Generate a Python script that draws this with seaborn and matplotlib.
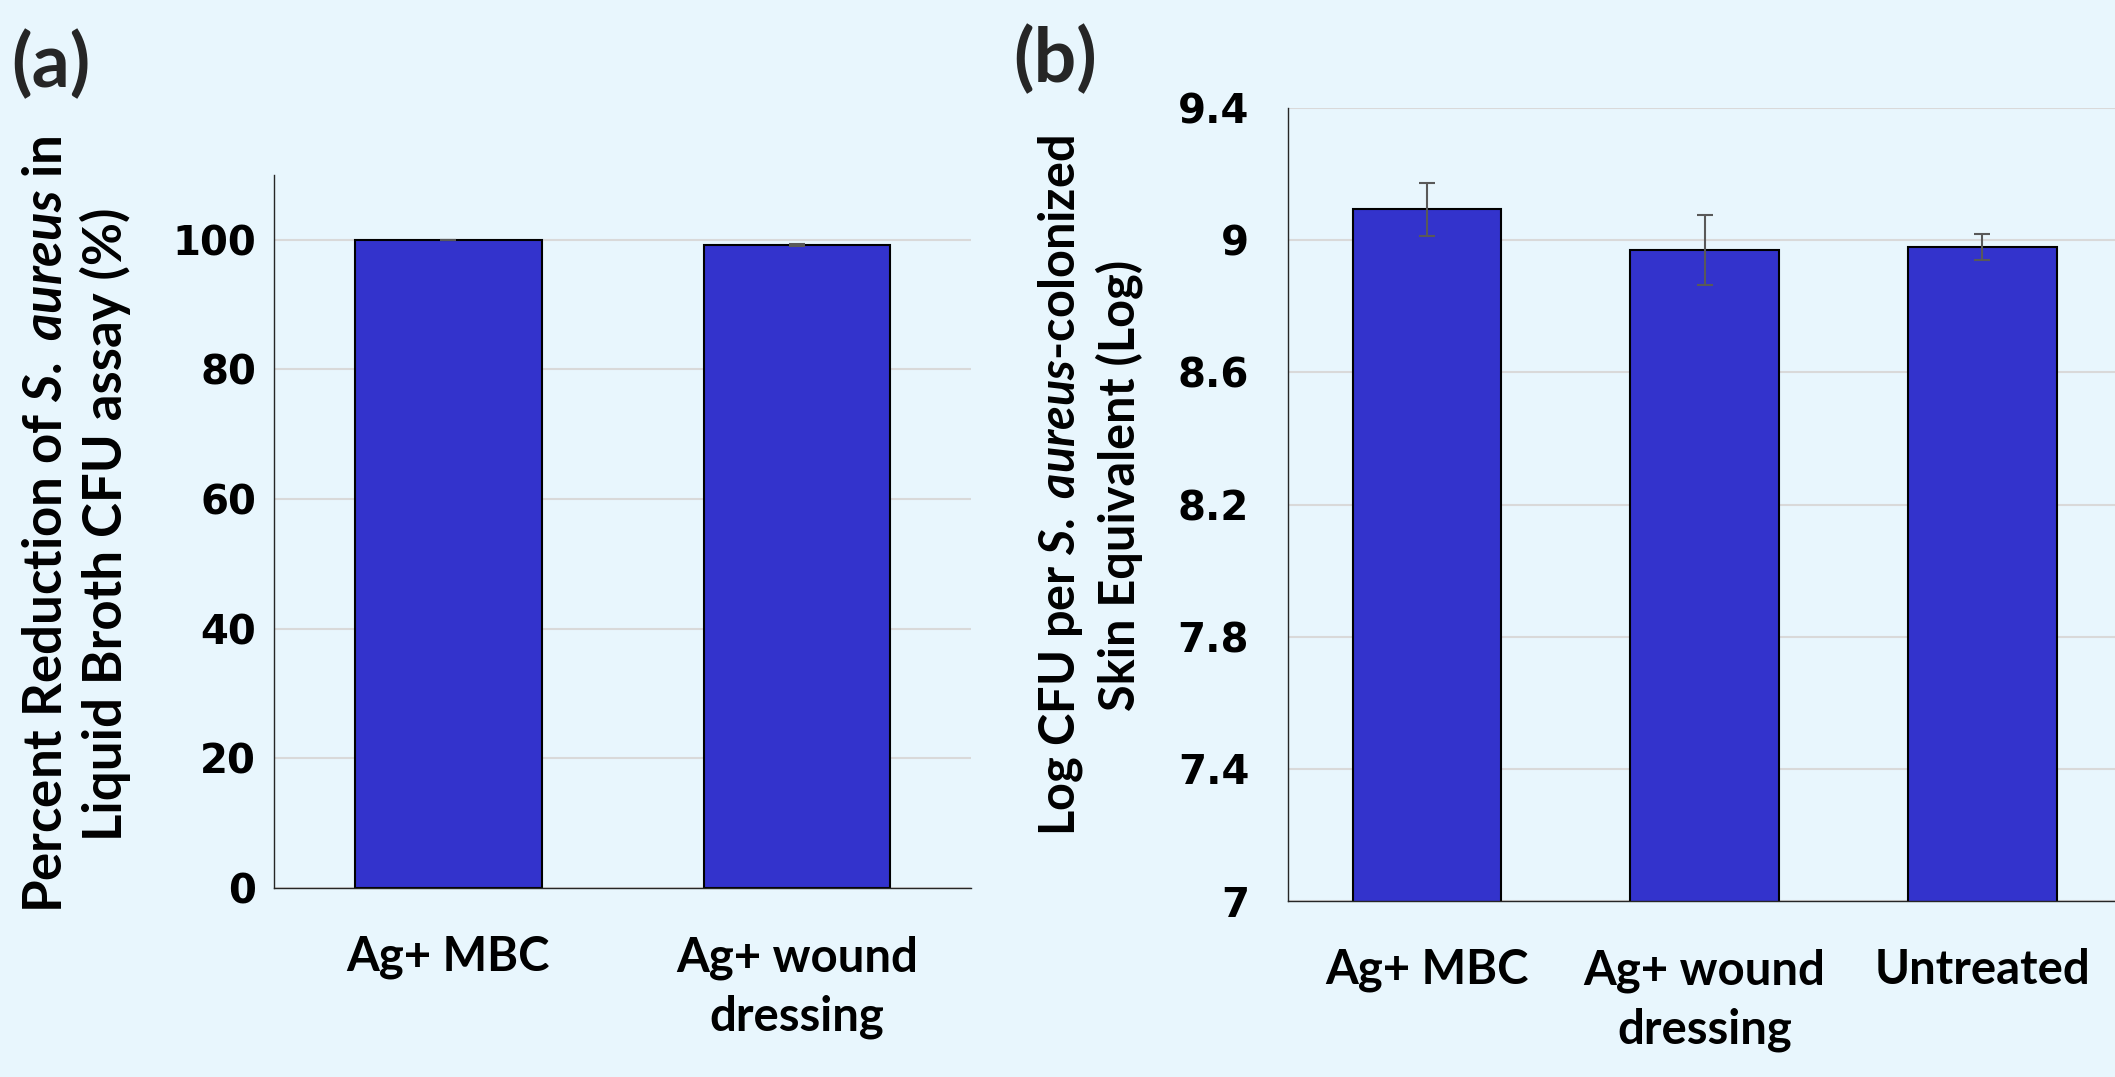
import matplotlib
matplotlib.use("Agg")
import matplotlib.pyplot as plt
import seaborn as sns
import pandas as pd

# ---------------- data ----------------
cats_a = ["Ag+ MBC", "Ag+ wound\ndressing"]
vals_a = [100.0, 99.2]
errs_a = [0.05, 0.1]
yticks_a = [0, 20, 40, 60, 80, 100]
ylabels_a = ["0", "20", "40", "60", "80", "100"]

cats_b = ["Ag+ MBC", "Ag+ wound\ndressing", "Untreated"]
vals_b = [9.093, 8.970, 8.979]
errs_b = [0.081, 0.106, 0.039]
yticks_b = [7.0, 7.4, 7.8, 8.2, 8.6, 9.0, 9.4]
ylabels_b = ["7", "7.4", "7.8", "8.2", "8.6", "9", "9.4"]

ylab_a = "Percent Reduction of $\\mathit{S.}$ $\\mathit{aureus}$ in\nLiquid Broth CFU assay (%)"
ylab_b = "Log CFU per $\\mathit{S.}$ $\\mathit{aureus}$-colonized\nSkin Equivalent (Log)"

# ---------------- style ----------------
BG = "#E8F6FD"
BAR = "#3333CC"
GRID = "#D9D9D9"
ERR = "#595959"

sns.set_theme(style="white")
plt.rcParams["font.family"] = ["Lato", "DejaVu Sans"]
plt.rcParams["mathtext.fontset"] = "custom"
plt.rcParams["mathtext.it"] = "Lato:italic:bold"
plt.rcParams["mathtext.rm"] = "Lato:bold"
plt.rcParams["mathtext.bf"] = "Lato:bold"

fig = plt.figure(figsize=(21.15, 10.77), dpi=100, facecolor=BG)
ax1 = fig.add_axes([0.1296, 0.1755, 0.3296, 0.662])
ax2 = fig.add_axes([0.609, 0.1634, 0.394, 0.7363])


def draw(ax, cats, vals, errs, yticks, ylabels, ylim, ylab, ypad,
         lab_size, lab_ls, lab_xy):
    ax.set_facecolor(BG)
    df = pd.DataFrame({"cat": cats, "val": vals})
    sns.barplot(data=df, x="cat", y="val", ax=ax, color=BAR, saturation=1,
                width=0.535, edgecolor="black", linewidth=1.5, errorbar=None,
                zorder=2)
    ax.errorbar(x=list(range(len(cats))), y=vals, yerr=errs, fmt="none",
                ecolor=ERR, elinewidth=1.5, capsize=6, capthick=1.5, zorder=3)
    ax.set_xlim(-0.5, len(cats) - 0.5)
    ax.set_ylim(*ylim)
    ax.set_yticks(yticks, labels=ylabels)
    ax.yaxis.grid(True, color=GRID, linewidth=1.5, zorder=0)
    ax.set_axisbelow(True)
    for s in ["top", "right"]:
        ax.spines[s].set_visible(False)
    for s in ["left", "bottom"]:
        ax.spines[s].set_color("#262626")
        ax.spines[s].set_linewidth(1.0)
    ax.tick_params(axis="both", length=0)
    ax.tick_params(axis="y", pad=ypad)
    ax.tick_params(axis="x", pad=34)
    for t in ax.get_yticklabels():
        t.set_fontfamily("DejaVu Sans")
        t.set_fontweight("bold")
        t.set_fontsize(29)
        t.set_color("black")
    for t in ax.get_xticklabels():
        t.set_fontweight("bold")
        t.set_fontsize(34)
        t.set_color("black")
        t.set_linespacing(1.42)
    ax.set_xlabel("")
    ax.set_ylabel(ylab, fontsize=lab_size, fontweight="bold", color="black",
                  linespacing=lab_ls)
    ax.yaxis.set_label_coords(*lab_xy)


draw(ax1, cats_a, vals_a, errs_a, yticks_a, ylabels_a, (0, 110), ylab_a, 13,
     38, 1.22, (-0.205, 0.51))
draw(ax2, cats_b, vals_b, errs_b, yticks_b, ylabels_b, (7.0, 9.4), ylab_b, 28,
     35, 1.27, (-0.174, 0.524))

fig.text(0.0052, 0.94, "(a)", fontsize=54, fontweight="bold", va="center", ha="left")
fig.text(0.479, 0.944, "(b)", fontsize=54, fontweight="bold", va="center", ha="left")

fig.savefig("out.png", dpi=100, facecolor=BG)
